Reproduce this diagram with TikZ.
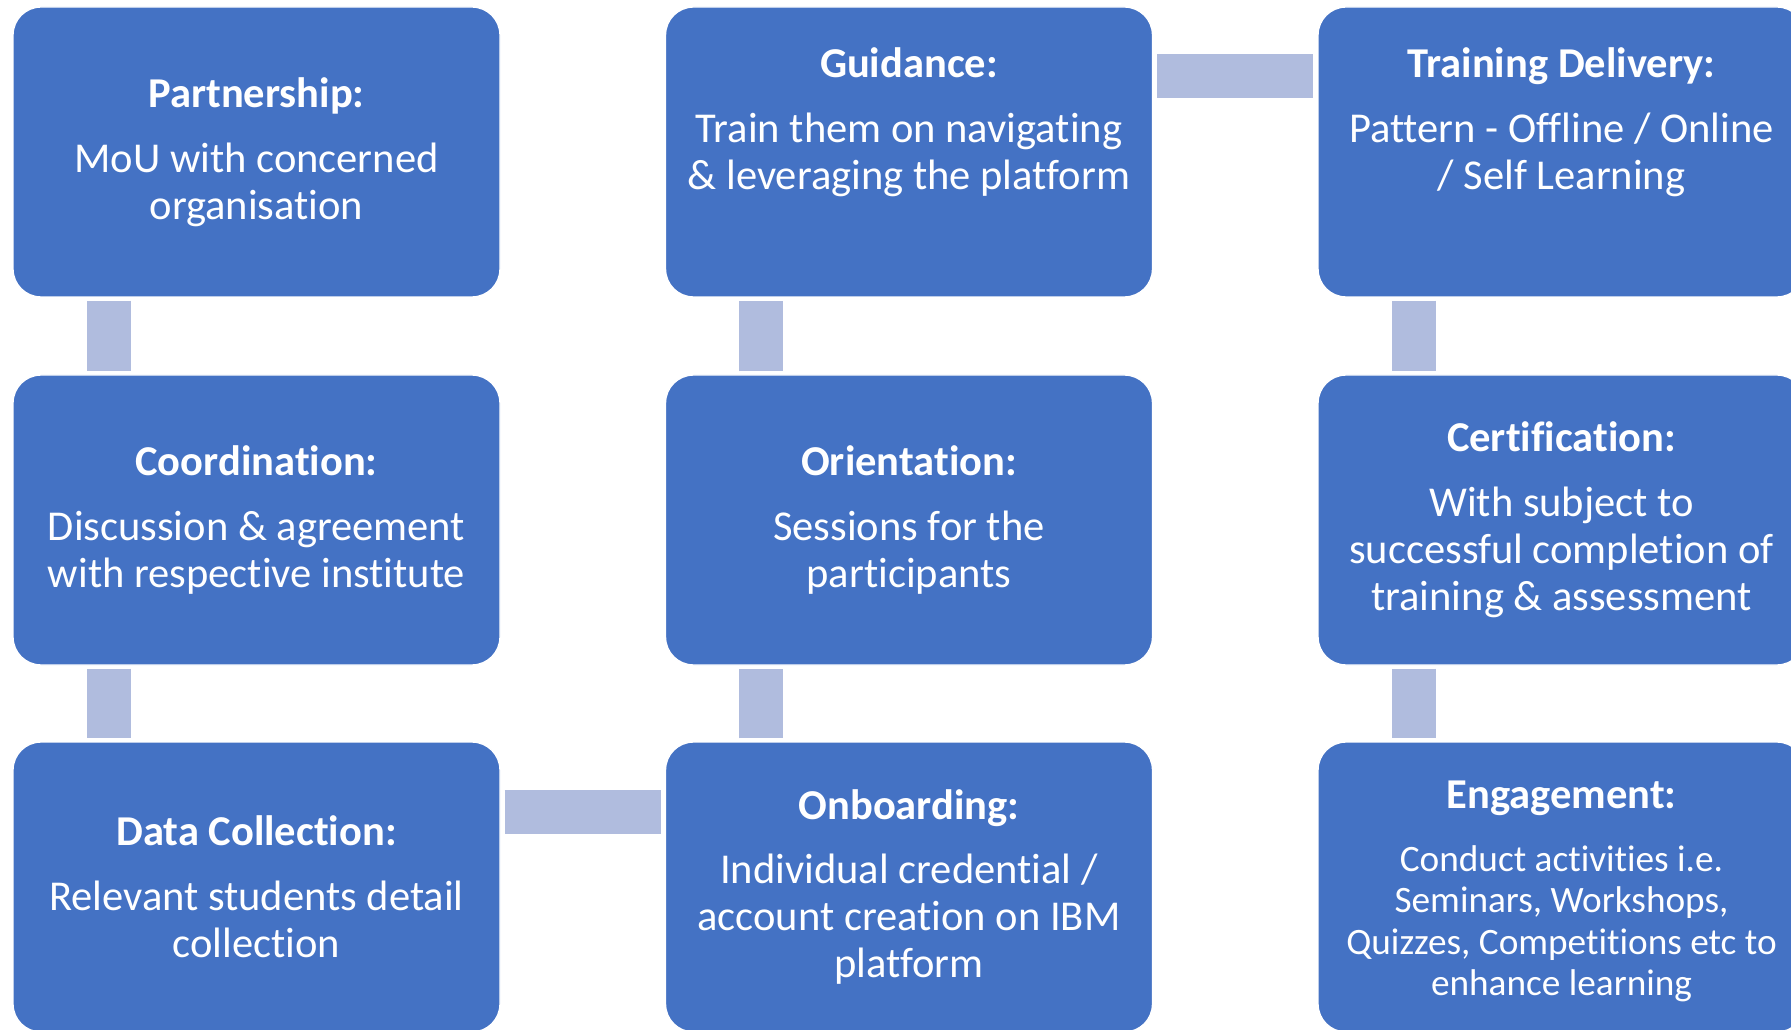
\documentclass[tikz,border=0pt]{standalone}
\usepackage{fontspec}
\setmainfont{Carlito}[Ligatures=NoCommon]
\usepackage{tikz}

\definecolor{boxblue}{RGB}{68,114,196}
\definecolor{linkblue}{RGB}{176,188,222}

\begin{document}
\begin{tikzpicture}[x=0.1mm, y=-0.1mm,
    stepbox/.style={fill=boxblue, draw=white, line width=0.4pt, rounded corners=2.8mm,
        minimum width=48.7mm, minimum height=29mm, inner sep=0pt},
    steptext/.style={text=white, align=center, inner sep=0pt,
        font=\fontsize{12.1}{13.4}\selectfont},
    smalltext/.style={steptext, font=\fontsize{10.6}{11.7}\selectfont},
    link/.style={draw=linkblue, line width=4.4mm}]
    \useasboundingbox (0,0) rectangle (1791,1030);

    % Define boxes
    \node[stepbox] (part) at (256.5,152) {};
    \node[stepbox] (coord) at (256.5,520) {};
    \node[stepbox] (data) at (256.5,887) {};

    \node[stepbox] (guid) at (909,152) {};
    \node[stepbox] (orient) at (909,520) {};
    \node[stepbox] (onboard) at (909,887) {};

    \node[stepbox] (train) at (1561.5,152) {};
    \node[stepbox] (cert) at (1561.5,520) {};
    \node[stepbox] (engage) at (1561.5,887) {};

    % Box texts
    \node[steptext] (partT) at (part) {\textbf{Partnership:}\\[5pt] MoU with concerned\\ organisation};
    \node[steptext] (coordT) at (coord) {\textbf{Coordination:}\\[5pt] Discussion \& agreement\\ with respective institute};
    \node[steptext] (dataT) at (data) {\textbf{Data Collection:}\\[5pt] Relevant students detail\\ collection};
    \node[steptext] (guidT) at ([yshift=3mm]guid.center) {\textbf{Guidance:}\\[5pt] Train them on navigating\\ \& leveraging the platform};
    \node[steptext] (orientT) at (orient) {\textbf{Orientation:}\\[5pt] Sessions for the\\ participants};
    \node[steptext] (onboardT) at (onboard) {\textbf{Onboarding:}\\[5pt] Individual credential /\\ account creation on IBM\\ platform};
    \node[steptext] (trainT) at ([yshift=3mm]train.center) {\textbf{Training Delivery:}\\[5pt] Pattern - Offline / Online\\ / Self Learning};
    \node[steptext] (certT) at (cert) {\textbf{Certification:}\\[5pt] With subject to\\ successful completion of\\ training \& assessment};
    \node[smalltext] (engageT) at ([yshift=-0.45mm]engage.center) {\fontsize{12.1}{13.4}\selectfont\textbf{Engagement:}\\[6.2pt] Conduct activities i.e.\\ Seminars, Workshops,\\ Quizzes, Competitions etc to\\ enhance learning};

    % Draw links
    \draw[link] ([xshift=9.7mm,yshift=-0.3mm]part.south west) -- ([xshift=9.7mm,yshift=0.3mm]coord.north west);
    \draw[link] ([xshift=9.7mm,yshift=-0.3mm]coord.south west) -- ([xshift=9.7mm,yshift=0.3mm]data.north west);
    \draw[link] ([xshift=0.4mm,yshift=-7.1mm]data.north east) -- ([xshift=-0.4mm,yshift=-7.1mm]onboard.north west);
    \draw[link] ([xshift=9.65mm,yshift=0.3mm]onboard.north west) -- ([xshift=9.65mm,yshift=-0.3mm]orient.south west);
    \draw[link] ([xshift=9.65mm,yshift=0.3mm]orient.north west) -- ([xshift=9.65mm,yshift=-0.3mm]guid.south west);
    \draw[link] ([xshift=0.4mm,yshift=-7mm]guid.north east) -- ([xshift=-0.4mm,yshift=-7mm]train.north west);
    \draw[link] ([xshift=9.7mm,yshift=-0.3mm]train.south west) -- ([xshift=9.7mm,yshift=0.3mm]cert.north west);
    \draw[link] ([xshift=9.7mm,yshift=-0.3mm]cert.south west) -- ([xshift=9.7mm,yshift=0.3mm]engage.north west);
\end{tikzpicture}
\end{document}
